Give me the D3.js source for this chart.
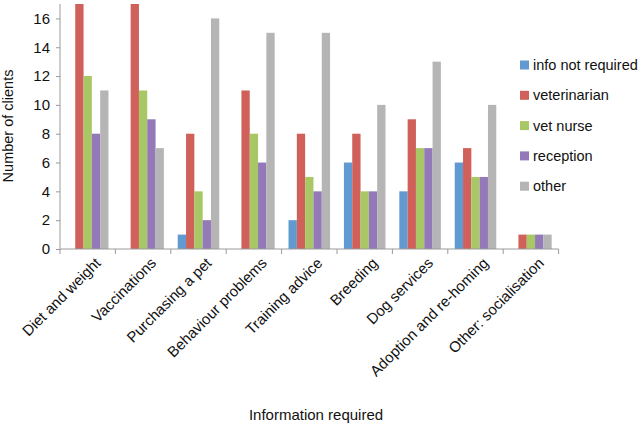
<!DOCTYPE html>
<html><head><meta charset="utf-8">
<script src="https://cdn.jsdelivr.net/npm/d3@7"></script>
<style>body{margin:0;background:#fff}svg{display:block}text{font-family:"Liberation Sans",Arial,sans-serif;fill:#111}</style>
</head><body><svg id="c" width="638" height="424"></svg>
<script>
const categories = ["Diet and weight","Vaccinations","Purchasing a pet","Behaviour problems","Training advice","Breeding","Dog services","Adoption and re-homing","Other: socialisation"];
const seriesNames = ["info not required","veterinarian","vet nurse","reception","other"];
const infoNotRequired = [0,0,1,0,2,6,4,6,0];
const veterinarian = [17,17,8,11,8,8,9,7,1];
const vetNurse = [12,11,4,8,5,4,7,5,1];
const reception = [8,9,2,6,4,4,7,5,1];
const other = [11,7,16,15,15,10,13,10,1];
const yTicks = [0,2,4,6,8,10,12,14,16];
const colors = ["#6199d1","#d0605a","#a8c765","#9379b8","#b5b5b5"];
const seriesValues = [infoNotRequired, veterinarian, vetNurse, reception, other];

const svg = d3.select("#c");
const W = 558.6, H0 = 249;
const x = d3.scaleBand().domain(categories).range([60, W]).paddingInner(0.25).paddingOuter(0.125);
const x1 = d3.scaleBand().domain(seriesNames).range([0, x.bandwidth()]);
const y = d3.scaleLinear().domain([0,17]).range([H0, 4]);

const g = svg.append("g");
categories.forEach((c,i)=>{
  seriesNames.forEach((s,j)=>{
    const v = seriesValues[j][i];
    if(v>0) g.append("rect").attr("x", x(c)+x1(s)).attr("width", x1.bandwidth()).attr("y", y(v)).attr("height", y(0)-y(v)).attr("fill", colors[j]);
  });
});

// y axis
const ya = svg.append("g").attr("transform","translate(60,0)").call(d3.axisLeft(y).tickValues(yTicks).tickSize(4).tickPadding(6).tickSizeOuter(0));
ya.select(".domain").attr("stroke","#9a9a9a").attr("d","M0,4V"+H0);
ya.selectAll(".tick line").attr("stroke","#9a9a9a");
ya.selectAll("text").style("font-size","15px").attr("fill","#111");

// x axis with boundary ticks
const xa = svg.append("g").attr("transform","translate(0,"+H0+")");
xa.append("line").attr("x1",60).attr("x2",W).attr("y1",0).attr("y2",0).attr("stroke","#9a9a9a");
const step = x.step();
d3.range(categories.length+1).forEach(i=>{
  const xx = 60 + i*step;
  xa.append("line").attr("x1",xx).attr("x2",xx).attr("y1",0).attr("y2",5).attr("stroke","#9a9a9a");
});
categories.forEach(c=>{
  const cx = x(c)+x.bandwidth()/2;
  xa.append("text").attr("text-anchor","end").style("font-size","15px")
    .attr("transform","translate("+(cx+14)+",15) rotate(-45)").text(c);
});

svg.append("text").attr("x",316).attr("y",420).attr("text-anchor","middle").style("font-size","15px").text("Information required");
svg.append("text").attr("transform","translate(13,126) rotate(-90)").attr("text-anchor","middle").style("font-size","14.5px").text("Number of clients");

// legend
const lg = svg.append("g");
seriesNames.forEach((s,i)=>{
  const yy = 65 + i*30.3;
  lg.append("rect").attr("x",520).attr("y",yy-4.5).attr("width",9).attr("height",9).attr("fill",colors[i]);
  lg.append("text").attr("x",533).attr("y",yy+5).style("font-size","14.5px").text(s);
});
</script></body></html>
